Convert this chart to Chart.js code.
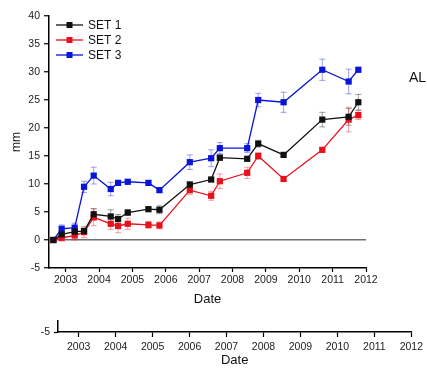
<!DOCTYPE html>
<html lang="en">
<head>
<meta charset="UTF-8">
<script src="https://cdn.jsdelivr.net/npm/chart.js"></script>
<title>SET 1-3, mm vs Date</title>
<style>
body { margin: 0; background: #fff; }
#wrap { position: relative; width: 427px; height: 374px; }
canvas { position: absolute; left: 0; top: 0; }
</style>
</head>
<body>
<div id="wrap">
	<canvas id="mainChart" width="427" height="374"></canvas>
	<canvas id="axisChart" width="427" height="374"></canvas>
</div>
<script>
// sampling dates (decimal years)
var dates = [2002.63, 2002.88, 2003.27, 2003.55, 2003.84, 2004.35, 2004.57, 2004.86, 2005.48, 2005.81,
	2006.72, 2007.36, 2007.62, 2008.44, 2008.77, 2009.53, 2010.69, 2011.48, 2011.77];

var set1 = [0, 1.0, 1.5, 1.6, 4.6, 4.2, 3.75, 4.9, 5.5, 5.4, 9.9, 10.8, 14.7, 14.5, 17.2, 15.2, 21.5, 22.0, 24.6];
var set2 = [0, 0.4, 0.8, 1.4, 4.05, 2.9, 2.5, 2.9, 2.7, 2.6, 8.9, 7.9, 10.5, 12.0, 15.0, 10.9, 16.1, 21.5, 22.3];
var set3 = [0, 2.0, 2.2, 9.5, 11.5, 9.1, 10.2, 10.4, 10.2, 8.9, 13.9, 14.6, 16.4, 16.4, 25.0, 24.6, 30.4, 28.3, 30.4];

// error bars (+/-)
var err1 = [0, 0.3, 0.4, 0.5, 1.0, 1.2, 0.8, 0.5, 0.4, 0.7, 0.5, 0.4, 0.5, 0.4, 0.6, 0.3, 1.3, 1.5, 1.4];
var err2 = [0, 0.6, 0.8, 1.0, 1.5, 1.0, 1.2, 1.0, 0.6, 0.6, 0.8, 0.8, 1.3, 1.0, 0.6, 0.4, 0.4, 2.2, 0.8];
var err3 = [0, 0.7, 0.8, 1.0, 1.5, 1.2, 0.4, 0.4, 0.4, 0.4, 1.3, 1.5, 1.0, 0.8, 1.2, 1.8, 1.9, 2.2, 0.4];

var yearTicks = [2003, 2004, 2005, 2006, 2007, 2008, 2009, 2010, 2011, 2012];
var mmTicks = [-5, 0, 5, 10, 15, 20, 25, 30, 35, 40];

var FONT = 'Liberation Sans, Arial, sans-serif';

function toPoints(vals) {
	return dates.map(function (d, i) { return { x: d, y: vals[i] }; });
}

function makeSet(label, vals, errs, color, errColor) {
	return {
		label: label,
		data: toPoints(vals),
		errors: errs,
		errColor: errColor,
		borderColor: color,
		backgroundColor: color,
		borderWidth: 1.3,
		pointStyle: 'rect',
		pointRadius: 4.4,
		pointBorderWidth: 0,
		tension: 0
	};
}

// error bars drawn under the markers
var errorBars = {
	id: 'errorBars',
	beforeDatasetsDraw: function (chart) {
		var ctx = chart.ctx, y = chart.scales.y;
		chart.data.datasets.forEach(function (ds, i) {
			var meta = chart.getDatasetMeta(i);
			ctx.save();
			ctx.strokeStyle = ds.errColor;
			ctx.lineWidth = 1;
			meta.data.forEach(function (pt, j) {
				var e = ds.errors[j];
				if (!e) return;
				var top = y.getPixelForValue(ds.data[j].y + e);
				var bot = y.getPixelForValue(ds.data[j].y - e);
				ctx.beginPath();
				ctx.moveTo(pt.x, top); ctx.lineTo(pt.x, bot);
				ctx.moveTo(pt.x - 3, top); ctx.lineTo(pt.x + 3, top);
				ctx.moveTo(pt.x - 3, bot); ctx.lineTo(pt.x + 3, bot);
				ctx.stroke();
			});
			ctx.restore();
		});
	}
};

// legend in the top-left corner + "AL" label
var legendBox = {
	id: 'legendBox',
	afterDraw: function (chart) {
		var ctx = chart.ctx, a = chart.chartArea;
		ctx.save();
		chart.data.datasets.forEach(function (ds, i) {
			var yy = a.top + 9 + i * 15;
			var x0 = a.left + 7;
			ctx.strokeStyle = ds.borderColor;
			ctx.lineWidth = 1.3;
			ctx.beginPath(); ctx.moveTo(x0, yy); ctx.lineTo(x0 + 27, yy); ctx.stroke();
			ctx.fillStyle = ds.borderColor;
			ctx.fillRect(x0 + 13.5 - 3, yy - 3, 6, 6);
			ctx.fillStyle = '#111';
			ctx.font = '12px ' + FONT;
			ctx.textBaseline = 'middle';
			ctx.fillText(ds.label, x0 + 32, yy + 0.5);
		});
		ctx.font = '14px ' + FONT;
		ctx.textBaseline = 'alphabetic';
		ctx.fillStyle = '#111';
		ctx.fillText('AL', chart.width - 18, 81.5);
		ctx.restore();
	}
};

new Chart(document.getElementById('mainChart'), {
	type: 'line',
	data: {
		datasets: [
			makeSet('SET 1', set1, err1, '#111111', 'rgba(40,40,40,0.45)'),
			makeSet('SET 2', set2, err2, '#e8101a', 'rgba(232,16,26,0.4)'),
			makeSet('SET 3', set3, err3, '#0a14d8', 'rgba(10,20,216,0.4)')
		]
	},
	options: {
		responsive: false,
		animation: false,
		layout: { padding: { left: 0, top: 16, right: 61, bottom: 67 } },
		plugins: { legend: { display: false }, tooltip: { enabled: false } },
		scales: {
			x: {
				type: 'linear',
				min: 2002.5,
				max: 2012,
				afterBuildTicks: function (s) { s.ticks = yearTicks.map(function (v) { return { value: v }; }); },
				afterFit: function (s) { s.height = 39; },
				border: { color: '#000', width: 1.5 },
				grid: { drawOnChartArea: false, tickLength: 4, tickColor: '#000', tickWidth: 1.2 },
				ticks: { color: '#222', font: { family: FONT, size: 10.5 }, padding: 2, maxRotation: 0,
					callback: function (v) { return String(v); } },
				title: { display: true, text: 'Date', color: '#111', font: { family: FONT, size: 13 }, padding: 0 }
			},
			y: {
				min: -5,
				max: 40,
				afterBuildTicks: function (s) { s.ticks = mmTicks.map(function (v) { return { value: v }; }); },
				afterFit: function (s) { s.width = 49; },
				border: { color: '#000', width: 1.5 },
				grid: {
					color: function (c) { return c.tick && c.tick.value === 0 ? '#6e6e6e' : 'rgba(0,0,0,0)'; },
					lineWidth: 1.5, tickColor: '#000', tickLength: 5, tickWidth: 1.2
				},
				ticks: { color: '#222', font: { family: FONT, size: 10.5 }, padding: 4,
					callback: function (v) { return String(v); } },
				title: { display: true, text: 'mm', color: '#111', font: { family: FONT, size: 12 }, padding: { top: 9, bottom: 0 } }
			}
		}
	},
	plugins: [errorBars, legendBox]
});

// the stray second date axis at the bottom
new Chart(document.getElementById('axisChart'), {
	type: 'line',
	data: { datasets: [{ data: [] }] },
	options: {
		responsive: false,
		animation: false,
		layout: { padding: { left: 0, top: 321, right: 11, bottom: 6 } },
		plugins: { legend: { display: false }, tooltip: { enabled: false } },
		scales: {
			x: {
				type: 'linear',
				min: 2002.44,
				max: 2012,
				afterBuildTicks: function (s) { s.ticks = yearTicks.map(function (v) { return { value: v }; }); },
				afterFit: function (s) { s.height = 36; },
				border: { color: '#000', width: 1.5 },
				grid: { drawOnChartArea: false, tickLength: 5, tickColor: '#000', tickWidth: 1.2 },
				ticks: { color: '#222', font: { family: FONT, size: 10.5 }, padding: 4, maxRotation: 0,
					callback: function (v) { return String(v); } },
				title: { display: true, text: 'Date', color: '#111', font: { family: FONT, size: 13 }, padding: 0 }
			},
			y: {
				min: -5,
				max: 0,
				afterBuildTicks: function (s) { s.ticks = [{ value: -5 }, { value: 0 }]; },
				afterFit: function (s) { s.width = 58; },
				border: { color: '#000', width: 1.5 },
				grid: { drawOnChartArea: false, tickLength: 4, tickColor: '#000', tickWidth: 1.2 },
				ticks: { color: '#222', font: { family: FONT, size: 10.5 }, padding: 4,
					callback: function (v) { return v === -5 ? '-5' : ''; } }
			}
		}
	}
});
</script>
</body>
</html>
